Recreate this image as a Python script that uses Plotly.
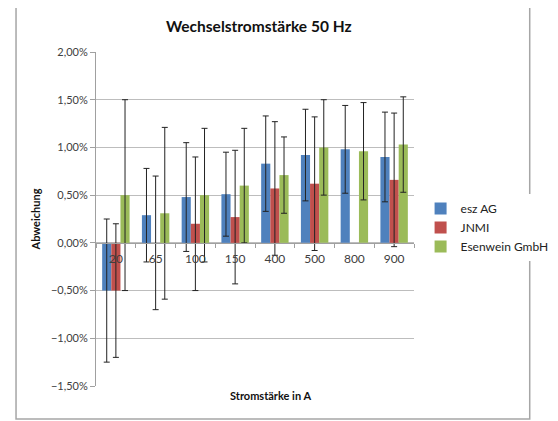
import plotly.graph_objects as go

categories = ["20", "65", "100", "150", "400", "500", "800", "900"]
esz = [-0.0050, 0.0029, 0.0048, 0.0051, 0.0083, 0.0092, 0.0098, 0.0090]
esz_err = [0.0075, 0.0049, 0.0057, 0.0044, 0.0050, 0.0048, 0.0046, 0.0047]
jnmi = [-0.0050, 0.0000, 0.0020, 0.0027, 0.0057, 0.0062, None, 0.0066]
jnmi_err = [0.0070, 0.0070, 0.0070, 0.0070, 0.0070, 0.0070, None, 0.0070]
esen = [0.0050, 0.0031, 0.0050, 0.0060, 0.0071, 0.0100, 0.0096, 0.0103]
esen_err = [0.0100, 0.0090, 0.0070, 0.0060, 0.0040, 0.0050, 0.0051, 0.0050]

names = ["esz AG", "JNMI", "Esenwein GmbH"]
colors = ["#4F81BD", "#C0504D", "#9BBB59"]

FONT = "Lato, 'Open Sans', sans-serif"

fig = go.Figure()
for name, vals, errs, col in zip(names, [esz, jnmi, esen], [esz_err, jnmi_err, esen_err], colors):
    fig.add_trace(go.Bar(
        x=categories, y=vals, name=name, marker_color=col, marker_line_width=0,
        error_y=dict(type="data", array=errs, symmetric=True, visible=True,
                     color="#222222", thickness=1, width=3),
    ))

ymin, ymax = -0.015, 0.02
zero_pos = (0 - ymin) / (ymax - ymin)

# plot area in window pixels: x 96..434, y 52..386 (page body has 8px offset)
PX0, PX1, PY0, PY1 = 96, 434, 52, 386
W, H = PX1 - PX0, PY1 - PY0

fig.update_layout(
    width=558, height=421,
    margin=dict(l=PX0 - 8, r=558 - (PX1 - 8), t=PY0 - 8, b=421 - (PY1 - 8)),
    paper_bgcolor="white", plot_bgcolor="white",
    separators=",.",
    font=dict(family=FONT, size=11, color="#404040"),
    barmode="group", bargap=0.31, bargroupgap=0,
    title=dict(text="<b>Wechselstromstärke 50 Hz</b>", x=(269 - PX0) / W, xref="paper",
               y=1 - (27 - 8) / 421, yref="container", xanchor="center", yanchor="middle",
               font=dict(family=FONT, size=15.5, color="#111111")),
    showlegend=True,
    legend=dict(x=1 + (441 - PX1) / W, y=0.575, xanchor="left", yanchor="top",
                font=dict(family=FONT, size=12, color="#222222"),
                itemwidth=30, tracegroupgap=2),
    yaxis=dict(range=[ymin, ymax], dtick=0.005, tickformat=".2%",
               showgrid=True, gridcolor="#BDBDBD", gridwidth=1,
               showline=True, linecolor="#A0A0A0", linewidth=1,
               ticks="outside", ticklen=5, tickcolor="#A0A0A0",
               zeroline=False,
               title=dict(text="<b>Abweichung</b>", standoff=8,
                          font=dict(family=FONT, size=11, color="#111111"))),
    xaxis=dict(anchor="free", position=zero_pos, showline=True,
               linecolor="#A0A0A0", linewidth=1, ticks="outside",
               tickson="boundaries", ticklen=4, tickcolor="#A0A0A0",
               ticklabelstandoff=5,
               showgrid=False, zeroline=False,
               tickfont=dict(family=FONT, size=12, color="#404040")),
    annotations=[dict(text="<b>Stromstärke in A</b>", x=(282 - PX0) / W, y=-(396 - PY1) / H,
                      xref="paper", yref="paper", xanchor="center", yanchor="middle",
                      showarrow=False,
                      font=dict(family=FONT, size=11, color="#111111"))],
    shapes=[dict(type="rect", xref="paper", yref="paper",
                 x0=(11 - PX0) / W, x1=(557 - PX0) / W,
                 y0=(PY1 - 419) / H, y1=(PY1 - 5) / H,
                 line=dict(color="#A6A6A6", width=1.5), fillcolor="rgba(0,0,0,0)",
                 layer="below")],
)

fig.write_html("out.html")
